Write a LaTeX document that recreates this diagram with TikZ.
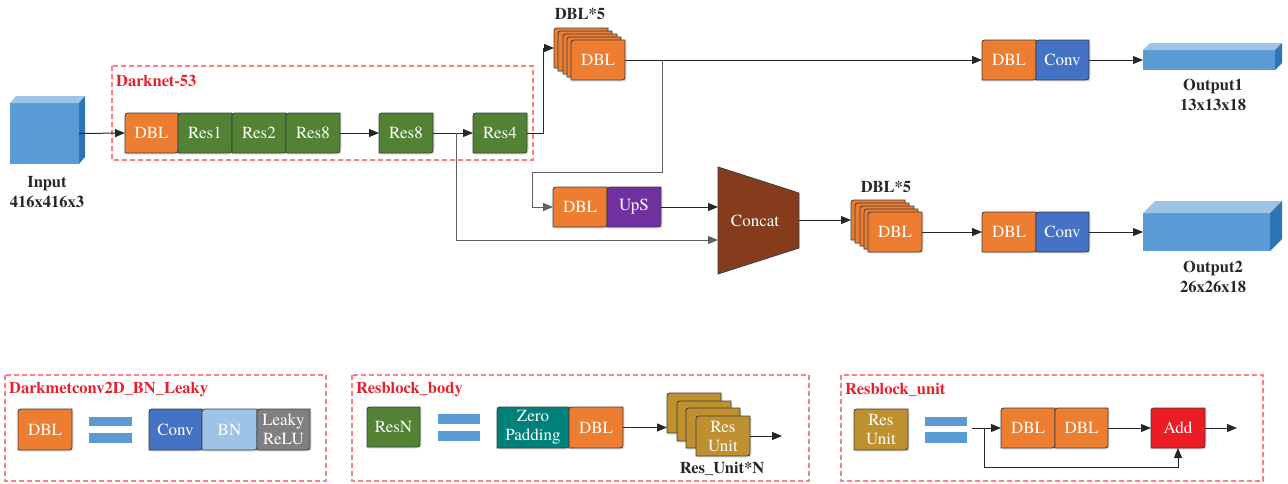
\documentclass[tikz,border=0pt]{standalone}
\usepackage{fontspec}
\newfontfamily\tnr{texgyretermes}[Extension=.otf, UprightFont=*-regular, BoldFont=*-bold, ItalicFont=*-italic, BoldItalicFont=*-bolditalic]
\usetikzlibrary{arrows.meta,calc}
\definecolor{cDBL}{HTML}{ED7D31}
\definecolor{cRes}{HTML}{548235}
\definecolor{cConv}{HTML}{4472C4}
\definecolor{cBN}{HTML}{9DC3E6}
\definecolor{cLeaky}{HTML}{808080}
\definecolor{cUps}{HTML}{7030A0}
\definecolor{cConcat}{HTML}{843C1C}
\definecolor{cZero}{HTML}{00807A}
\definecolor{cUnit}{HTML}{BF902F}
\definecolor{cAdd}{HTML}{EC1C24}
\definecolor{cFront}{HTML}{5B9BD5}
\definecolor{cTop}{HTML}{9DC3E6}
\definecolor{cSide}{HTML}{2E75B6}
\definecolor{cDash}{HTML}{FF7C80}
\definecolor{cLab}{HTML}{E8202A}
\definecolor{cLine}{HTML}{262626}
\definecolor{cBranch}{HTML}{606060}
\tikzset{
  boxline/.style={draw=cLine!90, line width=0.8pt},
  boxshadow/.style={fill=black, opacity=0.12},
  boxtxt/.style={text=white, inner sep=0pt, outer sep=0pt, align=center,
    font=\tnr\fontsize{17}{19}\selectfont},
  conn/.style={draw=cLine, line width=1pt},
  arr/.style={conn, -{Triangle[length=10pt,width=8pt]}},
  branch/.style={draw=cBranch, line width=1pt},
  barr/.style={branch, -{Triangle[length=10pt,width=8pt]}},
  lab/.style={font=\tnr\bfseries\fontsize{16.5}{20}\selectfont, text=black!85, align=center, inner sep=0pt},
  redlab/.style={font=\tnr\bfseries\fontsize{16.5}{20}\selectfont, text=cLab, anchor=west, inner sep=0pt},
  dashbox/.style={draw=cDash, line width=1.2pt, dash pattern=on 5pt off 3pt},
  eqbar/.style={fill=cFront},
}
% name, x1, y1, x2, y2, fill, text
\newcommand\blk[7]{%
  \fill[boxshadow] (#2+1.5,#3+6+1.5) .. controls (#2+1.5,#3+1.5) .. (#2+6+1.5,#3+1.5) -- (#4+1.5,#3+1.5) -- (#4+1.5,#5-6+1.5) .. controls (#4+1.5,#5+1.5) .. (#4-6+1.5,#5+1.5) -- (#2+1.5,#5+1.5) -- cycle;
  \draw[boxline, fill=#6] (#2,#3+6) .. controls (#2,#3) .. (#2+6,#3) -- (#4,#3) -- (#4,#5-6) .. controls (#4,#5) .. (#4-6,#5) -- (#2,#5) -- cycle;
  \node[boxtxt, minimum width={(#4-#2)*1pt}, minimum height={(#5-#3)*1pt}] (#1) at ({(#2+#4)/2},{(#3+#5)/2}) {#7};
}
\begin{document}
\begin{tikzpicture}[x=1pt,y=-1pt]
\useasboundingbox (0,0) rectangle (1288,483);

% ---------- Input cube ----------
\node[fill=cFront, minimum width=69pt, minimum height=61pt, inner sep=0pt, outer sep=0pt] (inp) at (44.5,133.5) {};
\fill[cTop] (inp.north west) -- ++(6,-7) -- ([xshift=6pt,yshift=7pt]inp.north east) -- (inp.north east) -- cycle;
\fill[cSide] (inp.north east) -- ++(6,-7) -- ([xshift=6pt,yshift=7pt]inp.south east) -- (inp.south east) -- cycle;
\node[lab] (inplab) at (47,192) {Input\\416x416x3};

% ---------- Darknet-53 ----------
\draw[dashbox] (112,66) rectangle (533,160);
\node[redlab] (dnlab) at (116,81) {Darknet-53};
\blk{dbl1}{125}{113}{178}{153}{cDBL}{DBL}
\blk{res1}{178}{113}{232}{153}{cRes}{Res1}
\blk{res2}{232}{113}{286}{153}{cRes}{Res2}
\blk{res8a}{286}{113}{340}{153}{cRes}{Res8}
\blk{res8b}{379}{113}{433}{153}{cRes}{Res8}
\blk{res4}{473}{113}{527}{153}{cRes}{Res4}

% ---------- DBL*5 (top) ----------
\node[lab] (s1lab) at (580,14) {DBL*5};
\blk{s1d}{554}{28}{608}{68}{cDBL}{}
\blk{s1c}{558}{31}{612}{71}{cDBL}{}
\blk{s1b}{563}{34}{617}{74}{cDBL}{}
\blk{s1a}{567}{37}{621}{77}{cDBL}{}
\blk{s1}{571}{40}{625}{80}{cDBL}{DBL}

% ---------- top output branch ----------
\blk{dbl3}{982}{40}{1036}{80}{cDBL}{DBL}
\blk{conv3}{1036}{40}{1089}{80}{cConv}{Conv}
\node[fill=cFront, minimum width=132pt, minimum height=20pt, inner sep=0pt, outer sep=0pt] (out1) at (1209,60) {};
\fill[cTop] (out1.north west) -- ++(7,-7) -- ([xshift=7pt,yshift=7pt]out1.north east) -- (out1.north east) -- cycle;
\fill[cSide] (out1.north east) -- ++(7,-7) -- ([xshift=7pt,yshift=7pt]out1.south east) -- (out1.south east) -- cycle;
\node[lab] (out1lab) at (1213,95) {Output1\\13x13x18};

% ---------- middle ----------
\blk{dbl2}{553}{187}{607}{227}{cDBL}{DBL}
\blk{ups}{607}{187}{661}{227}{cUps}{UpS}
\draw[boxline, fill=cConcat] (718,167) -- (799,193) -- (799,248) -- (718,274) -- cycle;
\node[boxtxt, minimum width=81pt, minimum height=107pt] (concat) at (758.5,220) {};
\node[boxtxt] (concattxt) at (755,221) {Concat};

% ---------- DBL*5 (bottom) ----------
\node[lab] (s2lab) at (886,187) {DBL*5};
\blk{s2d}{851}{200}{905}{240}{cDBL}{}
\blk{s2c}{855}{203}{909}{243}{cDBL}{}
\blk{s2b}{860}{206}{914}{246}{cDBL}{}
\blk{s2a}{864}{209}{918}{249}{cDBL}{}
\blk{s2}{868}{212}{922}{252}{cDBL}{DBL}
\blk{dbl4}{982}{212}{1036}{252}{cDBL}{DBL}
\blk{conv4}{1036}{212}{1089}{252}{cConv}{Conv}
\node[fill=cFront, minimum width=127pt, minimum height=38pt, inner sep=0pt, outer sep=0pt] (out2) at (1206.5,232) {};
\fill[cTop] (out2.north west) -- ++(12,-12) -- ([xshift=12pt,yshift=12pt]out2.north east) -- (out2.north east) -- cycle;
\fill[cSide] (out2.north east) -- ++(12,-12) -- ([xshift=12pt,yshift=12pt]out2.south east) -- (out2.south east) -- cycle;
\node[lab] (out2lab) at (1213,277) {Output2\\26x26x18};

% ---------- connectors ----------
\draw[arr] (inp.east) -- (dbl1.west);
\draw[arr] (res8a.east) -- (res8b.west);
\draw[arr] (res8b.east) -- (res4.west);
\draw[arr] (res4.east) -- ++(16,0) |- (s1d.west);
\coordinate (j1) at (456,133);
\draw[barr] (j1) |- ([yshift=-20pt]concat.west);
\draw[arr] (s1.east) -- (dbl3.west);
\coordinate (j2) at (662,60);
\draw[barr] (j2) |- ++(-130,112) |- (dbl2.west);
\draw[arr] (ups.east) -- (ups.east -| concat.west);
\draw[arr] (concat.east) -- (concat.east -| s2d.west);
\draw[arr] (conv3.east) -- (conv3.east -| out1.west);
\draw[arr] (s2.east) -- (dbl4.west);
\draw[arr] (conv4.east) -- (conv4.east -| out2.west);

% ---------- legend 1 ----------
\draw[dashbox] (5,375) rectangle (326,481);
\node[redlab] (l1lab) at (9,390) {Darkmetconv2D\_BN\_Leaky};
\blk{ldbl}{18}{409}{72}{450}{cDBL}{DBL}
\fill[eqbar] (89,417) rectangle (132,426);
\fill[eqbar] (89,433) rectangle (132,443);
\blk{lconv}{149}{409}{202}{450}{cConv}{Conv}
\blk{lbn}{202}{409}{257}{450}{cBN}{BN}
\blk{lleaky}{257}{409}{310}{450}{cLeaky}{Leaky\\ReLU}

% ---------- legend 2 ----------
\draw[dashbox] (352,375) rectangle (809,481);
\node[redlab] (l2lab) at (356,390) {Resblock\_body};
\blk{lresn}{367}{407}{420}{447}{cRes}{ResN}
\fill[eqbar] (438,414) rectangle (480,424);
\fill[eqbar] (438,431) rectangle (480,441);
\blk{lzero}{497}{407}{569}{448}{cZero}{Zero\\Padding}
\blk{ldbl2}{569}{407}{623}{448}{cDBL}{DBL}
\blk{ru3}{667}{393}{721}{433}{cUnit}{}
\blk{ru2}{677}{401}{731}{441}{cUnit}{}
\blk{ru1}{686}{408}{740}{448}{cUnit}{}
\blk{ru}{696}{416}{750}{456}{cUnit}{Res\\Unit}
\node[lab] (rulab) at (722,469) {Res\_Unit*N};
\draw[arr] (ldbl2.east) -- (ldbl2.east -| ru3.west);
\coordinate (ruout) at (782,436);
\draw[arr] (ru.east) -- (ruout);

% ---------- legend 3 ----------
\draw[dashbox] (841,375) rectangle (1263,481);
\node[redlab] (l3lab) at (845,390) {Resblock\_unit};
\blk{lunit}{854}{409}{908}{450}{cUnit}{Res\\Unit}
\fill[eqbar] (925,417) rectangle (967,426);
\fill[eqbar] (925,432) rectangle (967,443);
\blk{udbl1}{1001}{408}{1055}{448}{cDBL}{DBL}
\blk{udbl2}{1055}{408}{1108}{448}{cDBL}{DBL}
\blk{add}{1151}{408}{1205}{448}{cAdd}{Add}
\coordinate (uin) at (972,428);
\coordinate (j3) at (984,428);
\coordinate (uout) at (1237,428);
\draw[arr] (uin) -- (udbl1.west);
\draw[arr] (udbl2.east) -- (add.west);
\draw[arr] (add.east) -- (uout);
\draw[arr] (j3) |- ([yshift=-19pt]add.south) -- (add.south);
\end{tikzpicture}
\end{document}
